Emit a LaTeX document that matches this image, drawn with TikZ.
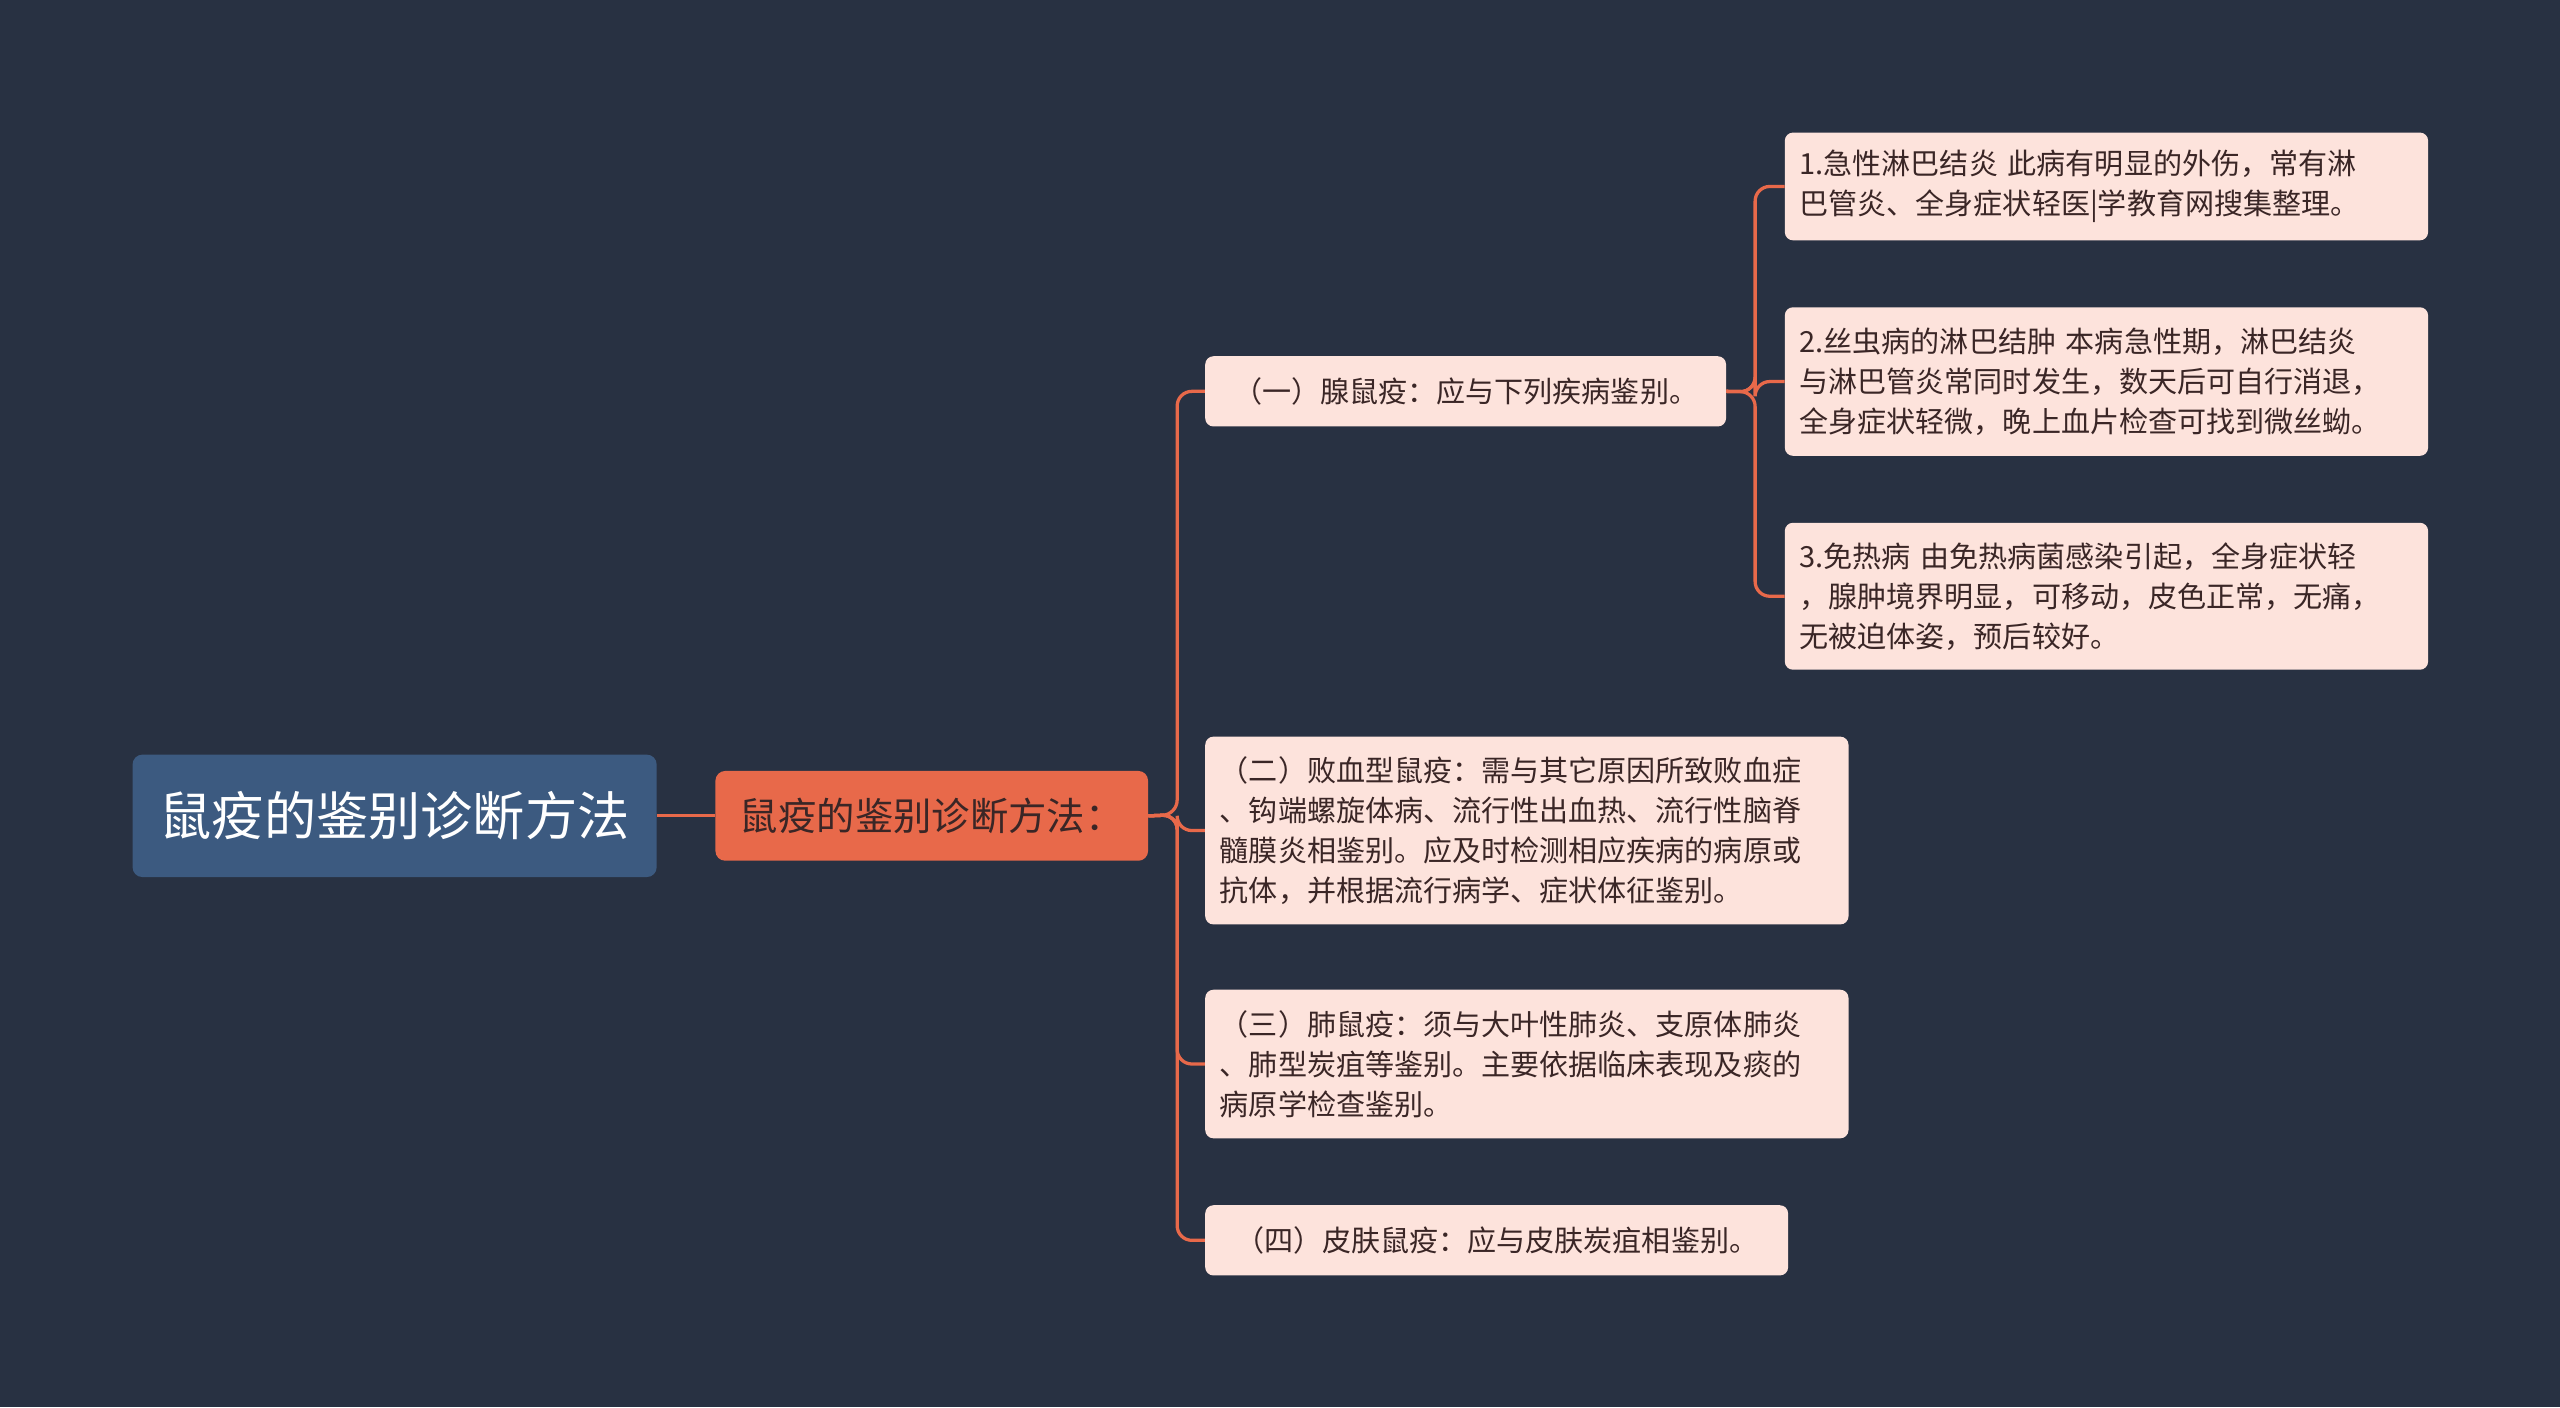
\documentclass[tikz,border=0pt]{standalone}
\usepackage{fontspec}
\setmainfont{Noto Sans CJK SC}
\begin{document}
\begin{tikzpicture}[x=1pt,y=-1pt,
  every node/.style={inner sep=0pt},
  leaf/.style={fill=leafc,rounded corners=5pt,anchor=north west,align=left,text=txt,inner xsep=9pt,font=\fontsize{17.8}{24.5}\selectfont},
  conn/.style={draw=orn,line width=2pt,rounded corners=9pt}]
\definecolor{bg}{HTML}{283142}
\definecolor{orn}{HTML}{E8694A}
\definecolor{leafc}{HTML}{FDE3DC}
\definecolor{rootc}{HTML}{3C5A80}
\definecolor{txt}{HTML}{3A2626}
\fill[bg] (0,0) rectangle (1568,862);
\useasboundingbox (0,0) rectangle (1568,862);
\node[fill=rootc,rounded corners=6pt,anchor=north west,minimum width=321pt,minimum height=75pt,text=white,font=\fontsize{32}{36}\selectfont] (root) at (81,462) {鼠疫的鉴别诊断方法};
\node[fill=orn,rounded corners=6pt,anchor=north west,minimum width=265pt,minimum height=55pt,text=txt,font=\fontsize{23.5}{28}\selectfont] (l1) at (438,472) {鼠疫的鉴别诊断方法：};
\node[leaf,minimum width=319pt,minimum height=43pt] (a) at (738,218) {（一）腺鼠疫：应与下列疾病鉴别。};
\node[leaf,text width=376pt,minimum height=115pt] (b) at (738,451) {（二）败血型鼠疫：需与其它原因所致败血症\\、钩端螺旋体病、流行性出血热、流行性脑脊\\髓膜炎相鉴别。应及时检测相应疾病的病原或\\抗体，并根据流行病学、症状体征鉴别。};
\node[leaf,text width=376pt,minimum height=91pt] (c) at (738,606) {（三）肺鼠疫：须与大叶性肺炎、支原体肺炎\\、肺型炭疽等鉴别。主要依据临床表现及痰的\\病原学检查鉴别。};
\node[leaf,minimum width=357pt,minimum height=43pt] (d) at (738,738) {（四）皮肤鼠疫：应与皮肤炭疽相鉴别。};
\node[leaf,text width=376pt,minimum height=66pt] (e) at (1093,81) {1.急性淋巴结炎 此病有明显的外伤，常有淋\\巴管炎、全身症状轻医|学教育网搜集整理。};
\node[leaf,text width=376pt,minimum height=91pt] (f) at (1093,188) {2.丝虫病的淋巴结肿 本病急性期，淋巴结炎\\与淋巴管炎常同时发生，数天后可自行消退，\\全身症状轻微，晚上血片检查可找到微丝蚴。};
\node[leaf,text width=376pt,minimum height=90pt] (g) at (1093,320) {3.免热病 由免热病菌感染引起，全身症状轻\\，腺肿境界明显，可移动，皮色正常，无痛，\\无被迫体姿，预后较好。};
\draw[conn] (root.east) -- (l1.west);
\foreach \n in {a,b,c,d} \draw[conn] (l1.east) -- (721,499) |- (\n.west);
\foreach \n in {e,f,g} \draw[conn] (a.east) -- (1075,240) |- (\n.west);
\end{tikzpicture}
\end{document}
